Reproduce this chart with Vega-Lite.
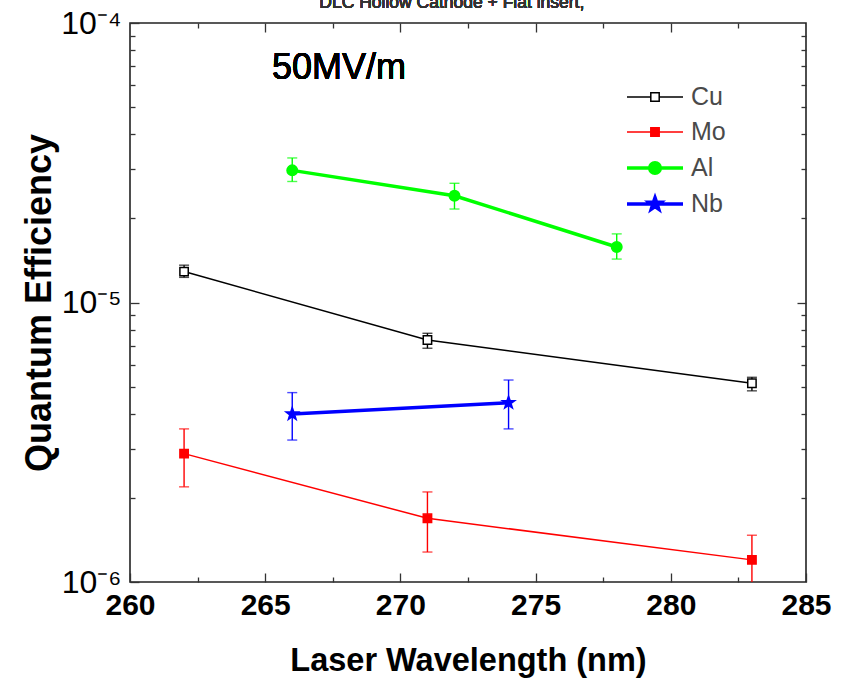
{
  "$schema": "https://vega.github.io/schema/vega-lite/v6.json",
  "width": 676,
  "height": 559,
  "autosize": {"type": "none"},
  "padding": {"left": 130, "top": 23, "right": 40, "bottom": 102},
  "config": {
    "font": "Liberation Sans",
    "view": {"stroke": "#222222", "strokeWidth": 1.6},
    "axis": {
      "domain": false,
      "grid": false,
      "tickColor": "#333333",
      "tickWidth": 1.3,
      "labelColor": "#000000",
      "titleColor": "#000000",
      "labelFlush": false,
      "labelOverlap": false,
      "labelBound": false
    }
  },
  "data": {
    "values": [
      {"metal": "Cu", "nm": 262, "qe": 1.29e-5, "lo": 1.23e-5, "hi": 1.36e-5},
      {"metal": "Cu", "nm": 271, "qe": 7.34e-6, "lo": 6.86e-6, "hi": 7.76e-6},
      {"metal": "Cu", "nm": 283, "qe": 5.14e-6, "lo": 4.83e-6, "hi": 5.4e-6},
      {"metal": "Mo", "nm": 262, "qe": 2.88e-6, "lo": 2.19e-6, "hi": 3.53e-6},
      {"metal": "Mo", "nm": 271, "qe": 1.69e-6, "lo": 1.28e-6, "hi": 2.1e-6},
      {"metal": "Mo", "nm": 283, "qe": 1.2e-6, "lo": 0.95e-6, "hi": 1.47e-6},
      {"metal": "Al", "nm": 266, "qe": 2.97e-5, "lo": 2.71e-5, "hi": 3.29e-5},
      {"metal": "Al", "nm": 272, "qe": 2.41e-5, "lo": 2.16e-5, "hi": 2.67e-5},
      {"metal": "Al", "nm": 278, "qe": 1.58e-5, "lo": 1.43e-5, "hi": 1.76e-5},
      {"metal": "Nb", "nm": 266, "qe": 3.99e-6, "lo": 3.22e-6, "hi": 4.76e-6},
      {"metal": "Nb", "nm": 274, "qe": 4.38e-6, "lo": 3.53e-6, "hi": 5.28e-6}
    ]
  },
  "resolve": {
    "axis": {"x": "independent", "y": "independent"},
    "scale": {"shape": "independent", "fill": "independent", "stroke": "independent", "strokeWidth": "independent"}
  },
  "layer": [
    {
      "mark": {"type": "rule", "strokeWidth": 1.4, "clip": true},
      "encoding": {
        "x": {"field": "nm", "type": "quantitative", "scale": {"domain": [260, 285], "nice": false, "zero": false},
              "axis": {"orient": "top", "values": [265, 270, 275, 280], "tickSize": -9, "labels": false, "title": null}},
        "y": {"field": "lo", "type": "quantitative", "scale": {"type": "log", "domain": [1e-6, 1e-4], "nice": false},
              "axis": {"orient": "right", "values": [1e-5], "tickSize": -9, "labels": false, "title": null}},
        "y2": {"field": "hi"},
        "color": {"field": "metal", "type": "nominal", "scale": {"domain": ["Cu", "Mo", "Al", "Nb"], "range": ["#000000", "#ff0000", "#00ff00", "#0000ff"]}, "legend": null}
      }
    },
    {
      "mark": {"type": "tick", "orient": "horizontal", "size": 10, "thickness": 1.4, "clip": true},
      "encoding": {
        "x": {"field": "nm", "type": "quantitative",
              "axis": {"orient": "top", "values": [262.5, 267.5, 272.5, 277.5, 282.5], "tickSize": -5, "labels": false, "title": null}},
        "y": {"field": "lo", "type": "quantitative",
              "axis": {"orient": "right", "values": [2e-6, 3e-6, 4e-6, 5e-6, 6e-6, 7e-6, 8e-6, 9e-6, 2e-5, 3e-5, 4e-5, 5e-5, 6e-5, 7e-5, 8e-5, 9e-5], "tickSize": -5, "labels": false, "title": null}},
        "color": {"field": "metal", "type": "nominal", "legend": null}
      }
    },
    {
      "mark": {"type": "tick", "orient": "horizontal", "size": 10, "thickness": 1.4, "clip": true},
      "encoding": {
        "x": {"field": "nm", "type": "quantitative", "axis": null},
        "y": {"field": "hi", "type": "quantitative", "axis": null},
        "color": {"field": "metal", "type": "nominal", "legend": null}
      }
    },
    {
      "mark": {"type": "line"},
      "encoding": {
        "x": {"field": "nm", "type": "quantitative",
              "axis": {"orient": "bottom", "values": [260, 265, 270, 275, 280, 285], "tickSize": -9, "labelFontSize": 30, "labelFontWeight": "bold", "labelPadding": 17,
                       "title": "Laser Wavelength (nm)", "titleFontSize": 32.5, "titleFontWeight": "bold", "titlePadding": 24}},
        "y": {"field": "qe", "type": "quantitative",
              "axis": {"orient": "left", "values": [1e-6, 1e-5, 1e-4], "tickSize": -9, "labelFontSize": 32, "labelPadding": 18,
                       "labelExpr": "'10' + (datum.value < 5e-6 ? '⁻⁶' : datum.value < 5e-5 ? '⁻⁵' : '⁻⁴')",
                       "title": "Quantum Efficiency", "titleFontSize": 36, "titleFontWeight": "bold", "titlePadding": 2}},
        "color": {"field": "metal", "type": "nominal", "legend": null},
        "strokeWidth": {"condition": {"test": "datum.metal === 'Al' || datum.metal === 'Nb'", "value": 3.5}, "value": 1.5}
      }
    },
    {
      "mark": {"type": "point", "filled": false, "opacity": 1, "strokeWidth": 1.5},
      "encoding": {
        "x": {"field": "nm", "type": "quantitative",
              "axis": {"orient": "bottom", "values": [262.5, 267.5, 272.5, 277.5, 282.5], "tickSize": -5, "labels": false, "title": null}},
        "y": {"field": "qe", "type": "quantitative",
              "axis": {"orient": "left", "values": [2e-6, 3e-6, 4e-6, 5e-6, 6e-6, 7e-6, 8e-6, 9e-6, 2e-5, 3e-5, 4e-5, 5e-5, 6e-5, 7e-5, 8e-5, 9e-5], "tickSize": -5, "labels": false, "title": null}},
        "color": {"field": "metal", "type": "nominal", "legend": null},
        "fill": {"field": "metal", "type": "nominal", "scale": {"domain": ["Cu", "Mo", "Al", "Nb"], "range": ["#ffffff", "#ff0000", "#00ff00", "#0000ff"]}, "legend": null},
        "shape": {"field": "metal", "type": "nominal", "scale": {"domain": ["Cu", "Mo", "Al", "Nb"], "range": ["square", "square", "circle", "M0,-1L0.235,-0.324L0.951,-0.309L0.38,0.124L0.588,0.809L0,0.4L-0.588,0.809L-0.38,0.124L-0.951,-0.309L-0.235,-0.324Z"]}, "legend": null},
        "size": {"condition": [{"test": "datum.metal === 'Al'", "value": 110}, {"test": "datum.metal === 'Nb'", "value": 170}], "value": 70}
      }
    },
    {
      "data": {"values": [{"metal": "Cu"}, {"metal": "Mo"}, {"metal": "Al"}, {"metal": "Nb"}]},
      "mark": {"type": "point", "filled": false, "opacity": 1, "clip": true},
      "encoding": {
        "x": {"datum": 300, "type": "quantitative", "axis": null},
        "y": {"datum": 1e-5, "type": "quantitative", "axis": null},
        "stroke": {"field": "metal", "type": "nominal", "scale": {"domain": ["Cu", "Mo", "Al", "Nb"], "range": ["#000000", "#ff0000", "#00ff00", "#0000ff"]},
                   "legend": {"orient": "none", "legendX": 509, "legendY": 59, "title": null, "padding": 0,
                              "symbolSize": 784, "labelFontSize": 25, "labelColor": "#4a4a4a", "labelOffset": 20, "rowPadding": 7}},
        "fill": {"field": "metal", "type": "nominal", "scale": {"domain": ["Cu", "Mo", "Al", "Nb"], "range": ["#ffffff", "#ff0000", "#00ff00", "#0000ff"]}},
        "shape": {"field": "metal", "type": "nominal", "scale": {"domain": ["Cu", "Mo", "Al", "Nb"], "range": [
          "M-2,0H-0.3M0.3,0H2M-0.3,-0.3H0.3V0.3H-0.3Z",
          "M-2,0H2M-0.3,-0.3H0.3V0.3H-0.3Z",
          "M-2,0H2M-0.38,0A0.38,0.38 0 1,0 0.38,0A0.38,0.38 0 1,0 -0.38,0Z",
          "M-2,0H2M0,-0.45L0.106,-0.146L0.428,-0.139L0.171,0.056L0.265,0.364L0,0.18L-0.265,0.364L-0.171,0.056L-0.428,-0.139L-0.106,-0.146Z"]}},
        "strokeWidth": {"field": "metal", "type": "nominal", "scale": {"type": "ordinal", "domain": ["Cu", "Mo", "Al", "Nb"], "range": [1.5, 1.5, 3.5, 3.5]}}
      }
    },
    {
      "mark": {"type": "text", "align": "left", "baseline": "middle", "fontSize": 36, "color": "#000000"},
      "encoding": {
        "x": {"datum": 265.25, "type": "quantitative", "axis": null},
        "y": {"datum": 6.9e-5, "type": "quantitative", "axis": null},
        "text": {"value": "50MV/m"}
      }
    },
    {
      "mark": {"type": "text", "align": "left", "baseline": "alphabetic", "fontSize": 17.5, "color": "#333333"},
      "encoding": {
        "x": {"datum": 267.0, "type": "quantitative", "axis": null},
        "y": {"datum": 1.134e-4, "type": "quantitative", "axis": null},
        "text": {"value": "DLC Hollow Cathode + Flat insert,"}
      }
    }
  ]
}
